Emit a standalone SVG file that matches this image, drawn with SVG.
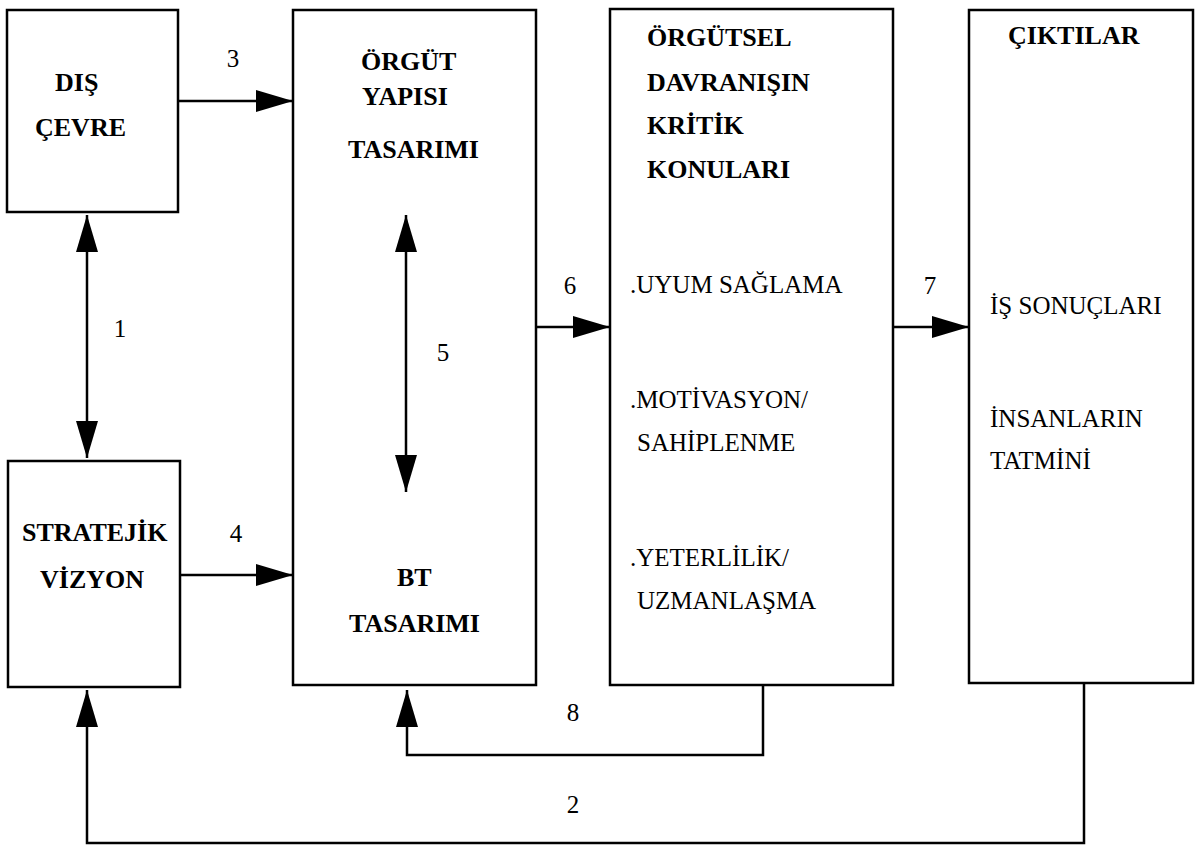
<svg xmlns="http://www.w3.org/2000/svg" width="1204" height="849" viewBox="0 0 1204 849">
  <style>
    .box { fill: #ffffff; stroke: #000000; stroke-width: 2.5; }
    .wire { fill: none; stroke: #000000; stroke-width: 2.5; }
    .hd { font-family: "Liberation Serif", "Times New Roman", serif; font-weight: bold; font-size: 26px; fill: #000000; }
    .tx { font-family: "Liberation Serif", "Times New Roman", serif; font-size: 25px; fill: #000000; }
    .num { font-family: "Liberation Serif", "Times New Roman", serif; font-size: 25px; fill: #000000; text-anchor: middle; }
  </style>
  <defs>
    <marker id="head" markerUnits="userSpaceOnUse" markerWidth="37" markerHeight="22" refX="37" refY="11" orient="auto-start-reverse">
      <path d="M0,0 L37,11 L0,22 Z" fill="#000000"/>
    </marker>
  </defs>
  <rect width="1204" height="849" fill="#ffffff"/>

  <g id="dis-cevre">
    <rect class="box" x="7" y="10" width="171" height="202"/>
    <text class="hd" x="55" y="91">DIŞ</text>
    <text class="hd" x="35" y="136">ÇEVRE</text>
  </g>

  <g id="stratejik-vizyon">
    <rect class="box" x="8" y="461" width="172" height="226"/>
    <text class="hd" x="22" y="541">STRATEJİK</text>
    <text class="hd" x="40" y="588">VİZYON</text>
  </g>

  <g id="orgut-yapisi">
    <rect class="box" x="293" y="10" width="243" height="675"/>
    <text class="hd" x="361" y="70">ÖRGÜT</text>
    <text class="hd" x="362" y="105">YAPISI</text>
    <text class="hd" x="348" y="158">TASARIMI</text>
    <text class="hd" x="397" y="586">BT</text>
    <text class="hd" x="349" y="632">TASARIMI</text>
  </g>

  <g id="orgutsel-davranis">
    <rect class="box" x="610" y="9" width="283" height="676"/>
    <text class="hd" x="647" y="46">ÖRGÜTSEL</text>
    <text class="hd" x="647" y="91">DAVRANIŞIN</text>
    <text class="hd" x="647" y="134">KRİTİK</text>
    <text class="hd" x="647" y="178">KONULARI</text>
    <text class="tx" x="630" y="293">.UYUM SAĞLAMA</text>
    <text class="tx" x="630" y="408">.MOTİVASYON/</text>
    <text class="tx" x="637" y="451">SAHİPLENME</text>
    <text class="tx" x="630" y="566">.YETERLİLİK/</text>
    <text class="tx" x="637" y="609">UZMANLAŞMA</text>
  </g>

  <g id="ciktilar">
    <rect class="box" x="969" y="10" width="224" height="673"/>
    <text class="hd" x="1008" y="44">ÇIKTILAR</text>
    <text class="tx" x="990" y="314">İŞ SONUÇLARI</text>
    <text class="tx" x="990" y="427">İNSANLARIN</text>
    <text class="tx" x="990" y="469">TATMİNİ</text>
  </g>

  <g id="connectors">
    <line class="wire" x1="87" y1="215" x2="87" y2="458" marker-start="url(#head)" marker-end="url(#head)"/>
    <line class="wire" x1="178" y1="101" x2="293" y2="101" marker-end="url(#head)"/>
    <line class="wire" x1="180" y1="575" x2="293" y2="575" marker-end="url(#head)"/>
    <line class="wire" x1="406" y1="215" x2="406" y2="492" marker-start="url(#head)" marker-end="url(#head)"/>
    <line class="wire" x1="536" y1="327" x2="610" y2="327" marker-end="url(#head)"/>
    <line class="wire" x1="893" y1="327" x2="969" y2="327" marker-end="url(#head)"/>
    <polyline class="wire" points="763,685 763,755 407,755 407,690" marker-end="url(#head)"/>
    <polyline class="wire" points="1084,683 1084,843 87,843 87,690" marker-end="url(#head)"/>
  </g>

  <g id="connector-labels">
    <text class="num" x="120" y="337">1</text>
    <text class="num" x="573" y="813">2</text>
    <text class="num" x="233" y="67">3</text>
    <text class="num" x="236" y="542">4</text>
    <text class="num" x="443" y="361">5</text>
    <text class="num" x="570" y="294">6</text>
    <text class="num" x="930" y="294">7</text>
    <text class="num" x="573" y="721">8</text>
  </g>
</svg>
